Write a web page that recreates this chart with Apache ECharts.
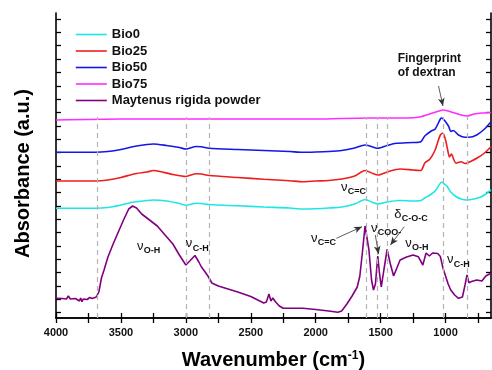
<!DOCTYPE html>
<html>
<head>
<meta charset="utf-8">
<script src="https://cdn.jsdelivr.net/npm/echarts@6/dist/echarts.min.js"></script>
<style>
  html, body { margin: 0; padding: 0; background: #fff; }
  #chart { width: 492px; height: 370px; }
</style>
</head>
<body>
<div id="chart"></div>
<script>
// wavenumbers (cm-1) and absorbance (a.u., offset traces)
const bio0Wn  = [4000,3700,3600,3500,3400,3300,3250,3150,3050,3000,2920,2880,2820,2600,2400,2200,2100,2000,1900,1800,1700,1620,1560,1520,1450,1350,1250,1190,1160,1120,1080,1050,1030,1010,990,960,920,880,840,780,720,650];
const bio0Abs = [109.7,109.7,110.5,113,116,117.5,118,117,114.5,112.8,114.7,114.5,113.5,112.2,111,110,109,109.3,110,111,114,118.5,115.5,114,116,117.5,117,117.5,120,123,127,133,136,134,132,126,121.5,119,118,119,121.5,128];

const bio25Wn  = [4000,3700,3600,3500,3400,3300,3250,3200,3100,3000,2920,2880,2820,2600,2400,2200,2100,2000,1900,1800,1700,1620,1560,1520,1450,1350,1250,1190,1160,1120,1080,1060,1040,1020,1000,985,970,955,935,920,880,850,800,750,700,650];
const bio25Abs = [137,137,138,140.5,144,146,147.5,146.5,143.5,141.5,144.3,144,142.5,140.5,138.7,137.3,136.3,137,137.5,139,142,147.5,144.5,143,146,149,148,147.5,155,159,168,176,183,184.7,178,169,161,164,158,154.7,156.3,154.5,157,160.5,165,171.3];

const bio50Wn  = [4000,3700,3600,3500,3400,3300,3250,3150,3050,3000,2920,2880,2820,2600,2400,2200,2100,2000,1900,1800,1700,1620,1560,1520,1450,1380,1250,1190,1160,1110,1080,1040,1030,1000,975,960,940,900,850,820,760,700,650];
const bio50Abs = [165.7,165.7,166.5,168.5,171.5,173.5,174,172.5,170.5,169,171.5,171.2,169.7,168.5,167.5,166.5,165.7,166,166.5,167.5,170,173,171,169.7,172.5,174.7,175.5,176.3,182,187,189,199,200,196.3,191.3,186.5,187.5,183,180.7,180.7,183,189,196.3];

const bio75Wn  = [4000,3500,3000,2500,2000,1600,1300,1200,1100,1050,1020,980,930,880,830,780,720,650];
const bio75Abs = [198,199,199,199,199,200,200,201,205,207,208,207,205,203,202,204,205,205.5];

const mrWn  = [4000,3950,3920,3905,3890,3850,3820,3810,3800,3790,3760,3740,3720,3690,3670,3650,3630,3600,3560,3520,3480,3440,3410,3380,3340,3280,3220,3160,3100,3050,3000,2970,2930,2900,2880,2860,2830,2800,2750,2700,2600,2500,2400,2380,2360,2345,2330,2310,2280,2250,2100,2000,1900,1830,1800,1760,1720,1680,1660,1640,1620,1605,1590,1570,1555,1540,1522,1510,1495,1475,1450,1425,1400,1385,1350,1300,1250,1210,1175,1150,1125,1100,1060,1040,1020,1000,980,960,930,900,870,850,835,820,800,760,720,690,650];
const mrAbs = [19.7,19.5,19,22,19,19.5,17,20,16.3,19,18.5,20.5,19.5,21,26,40,48,61,74,86,98,109,112,110,104,98,92,83,74,63,53,57,62.5,56,51,47.5,42,35,32,30,26,21.5,15,16,24,17,20,16.3,12,9.7,9.7,8.5,7,5.7,7,14,22,31,42,66,92,93,68,38,28,34,62,46,31,48,68.5,54,42,41,58,61,63,61.3,53,65,62,65,64.5,61.5,50,42,34,28,23,19.7,21,33,43,35.3,36.5,38,37,42,44.7];

const seriesNames = ['Bio0', 'Bio25', 'Bio50', 'Bio75', 'Maytenus rigida powder'];
const seriesColors = ['#1fe6e6', '#ee1d1d', '#1616e6', '#ff2cff', '#800080'];

// band positions marked with dashed lines
const bandWn = [3680, 3000, 2820, 1610, 1525, 1450, 1015, 830];
const bandTop = 201;

const xTicks = [750,1000,1250,1500,1750,2000,2250,2500,2750,3000,3250,3500,3750,4000];
const xLabels = [1000,1500,2000,2500,3000,3500,4000];

// peak labels: [wavenumber, absorbance, symbol, subscript]
const peakLabels = [
    [3376, 72, 'ν', 'O-H'],
    [3000, 74.3, 'ν', 'C-H'],
    [1805, 131, 'ν', 'C=C'],
    [2036, 80, 'ν', 'C=C'],
    [1574, 90, 'ν', 'COO-'],
    [1395, 104, 'δ', 'C-O-C'],
    [1310, 75, 'ν', 'O-H'],
    [989, 58.3, 'ν', 'C-H']
];
// arrows: [fromWn, fromAbs, toWn, toAbs]
const arrows = [
    [1054, 232, 1020, 212],
    [1841, 79.7, 1643, 91.3],
    [1541, 83, 1516, 64],
    [1318, 91.3, 1425, 73]
];

const FONT = '"Liberation Sans", Arial, sans-serif';

function pairs(xs, ys) {
    return xs.map((x, i) => [x, ys[i]]);
}

const yTicks = [];
for (let k = 0; k <= 22; k++) yTicks.push(5.3 + 13.35 * k);

const chart = echarts.init(document.getElementById('chart'));

const dataSets = [
    pairs(bio0Wn, bio0Abs),
    pairs(bio25Wn, bio25Abs),
    pairs(bio50Wn, bio50Abs),
    pairs(bio75Wn, bio75Abs),
    pairs(mrWn, mrAbs)
];

const series = dataSets.map((d, i) => ({
    name: seriesNames[i],
    type: 'line',
    data: d,
    symbol: 'none',
    smooth: i < 4 ? 0.25 : false,
    lineStyle: { color: seriesColors[i], width: 1.6 },
    itemStyle: { color: seriesColors[i] },
    z: 3
}));

// dashed guide lines and arrows
series.push({
    name: 'guides',
    type: 'line',
    data: [],
    silent: true,
    markLine: {
        silent: true,
        symbol: ['none', 'none'],
        label: { show: false },
        animation: false,
        data: bandWn.map(w => [
            { coord: [w, 0], lineStyle: { color: '#b4b4b4', type: [5, 4], width: 1.2 } },
            { coord: [w, bandTop] }
        ]).concat(arrows.map(a => [
            { coord: [a[0], a[1]], symbol: 'none', lineStyle: { color: '#333', type: 'solid', width: 0.8 } },
            { coord: [a[2], a[3]], symbol: 'arrow', symbolSize: [5, 8] }
        ]))
    },
    z: 1
});

const option = {
    animation: false,
    backgroundColor: '#fff',
    grid: { left: 56, right: 1, top: 13, bottom: 52, outerBoundsMode: 'none', containLabel: false },
    legend: {
        data: seriesNames,
        orient: 'vertical',
        left: 70,
        top: 23,
        itemWidth: 31,
        itemHeight: 14,
        itemGap: 3.5,
        itemStyle: { opacity: 0 },
        lineStyle: { width: 1.6 },
        textStyle: { fontFamily: FONT, fontWeight: 'bold', fontSize: 13, color: '#111' }
    },
    xAxis: [{
        type: 'value',
        min: 650,
        max: 4000,
        inverse: true,
        position: 'bottom',
        axisLine: { lineStyle: { color: '#000', width: 1.6 } },
        axisTick: { inside: true, length: 5, customValues: xTicks, lineStyle: { color: '#000', width: 1.3 } },
        axisLabel: {
            customValues: xLabels, formatter: v => String(v),
            fontFamily: FONT, fontWeight: 'bold', fontSize: 11, color: '#111', margin: 9
        },
        splitLine: { show: false },
        name: 'Wavenumber (cm{sup|-1})',
        nameLocation: 'middle',
        nameGap: 32,
        nameTextStyle: {
            fontFamily: FONT, fontWeight: 'bold', fontSize: 20, color: '#000',
            rich: { sup: { fontFamily: FONT, fontWeight: 'bold', fontSize: 12, verticalAlign: 'top', padding: [0, 0, 8, 0] } }
        }
    }, {
        type: 'value',
        min: 650,
        max: 4000,
        inverse: true,
        position: 'top',
        axisLine: { lineStyle: { color: '#000', width: 1.6 } },
        axisTick: { inside: true, length: 5, customValues: xTicks, lineStyle: { color: '#000', width: 1.3 } },
        axisLabel: { show: false },
        splitLine: { show: false }
    }],
    yAxis: [{
        type: 'value',
        min: 0,
        max: 305,
        position: 'left',
        axisLine: { show: true, lineStyle: { color: '#000', width: 1.6 } },
        axisTick: { show: true, inside: true, length: 5, customValues: yTicks, lineStyle: { color: '#000', width: 1.3 } },
        axisLabel: { show: false },
        splitLine: { show: false },
        name: 'Absorbance (a.u.)',
        nameLocation: 'middle',
        nameGap: 23,
        nameTextStyle: { fontFamily: FONT, fontWeight: 'bold', fontSize: 20, color: '#000', padding: [0, 16, 0, 0] }
    }, {
        type: 'value',
        min: 0,
        max: 305,
        position: 'right',
        axisLine: { show: true, lineStyle: { color: '#000', width: 1.6 } },
        axisTick: { show: true, inside: true, length: 5, customValues: yTicks, lineStyle: { color: '#000', width: 1.3 } },
        axisLabel: { show: false },
        splitLine: { show: false }
    }],
    series: series
};

chart.setOption(option);

// text annotations placed at data coordinates
const graphics = [];
peakLabels.forEach(p => {
    const pt = chart.convertToPixel({ gridIndex: 0 }, [p[0], p[1]]);
    graphics.push({
        type: 'text', x: pt[0], y: pt[1], z: 10,
        style: { text: p[2], font: '13px ' + FONT, fill: '#111', verticalAlign: 'middle', align: 'left' }
    });
    graphics.push({
        type: 'text', x: pt[0] + (p[2] === 'δ' ? 7.5 : 6.8), y: pt[1] + 4.5, z: 10,
        style: { text: p[3], font: 'bold 9px ' + FONT, fill: '#111', verticalAlign: 'middle', align: 'left' }
    });
});
const fp1 = chart.convertToPixel({ gridIndex: 0 }, [1369, 259.7]);
const fp2 = chart.convertToPixel({ gridIndex: 0 }, [1369, 245.3]);
graphics.push({
    type: 'text', x: fp1[0], y: fp1[1], z: 10,
    style: { text: 'Fingerprint', font: 'bold 12px ' + FONT, fill: '#111', verticalAlign: 'middle' }
});
graphics.push({
    type: 'text', x: fp2[0], y: fp2[1], z: 10,
    style: { text: 'of dextran', font: 'bold 12px ' + FONT, fill: '#111', verticalAlign: 'middle' }
});
chart.setOption({ graphic: graphics });
</script>
</body>
</html>
